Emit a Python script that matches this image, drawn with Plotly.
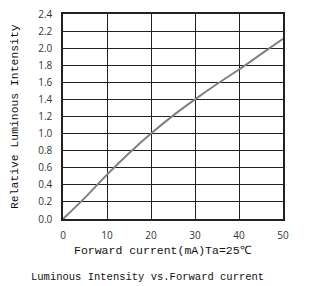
import plotly.graph_objects as go

current_ma = [0, 5, 10, 15, 20, 25, 30, 35, 40, 45, 50]
rel_intensity = [0, 0.25, 0.52, 0.77, 1.0, 1.21, 1.40, 1.58, 1.75, 1.93, 2.11]
x_ticks = [0, 10, 20, 30, 40, 50]
y_ticks = [round(0.2 * i, 1) for i in range(13)]
y_tick_labels = [f"{v:.1f}" for v in y_ticks]

fig = go.Figure()
fig.add_trace(go.Scatter(x=current_ma, y=rel_intensity, mode="lines", hoverinfo="skip",
                         line=dict(color="#808080", width=2), line_shape="spline"))

grid = "#222222"
tickfont = dict(family="Open Sans", size=10, color="#333")
fig.update_xaxes(range=[0, 50], tickvals=x_ticks, showgrid=True, gridcolor=grid, gridwidth=1.3,
                 showline=True, linecolor=grid, linewidth=1.5, mirror=True, zeroline=False,
                 ticks="outside", ticklen=6, tickcolor="rgba(0,0,0,0)", tickfont=tickfont,
                 automargin=False, fixedrange=True)
fig.update_yaxes(range=[0, 2.4], tickvals=y_ticks, ticktext=y_tick_labels, showgrid=True,
                 gridcolor=grid, gridwidth=1.3, showline=True, linecolor=grid, linewidth=1.5,
                 mirror=True, zeroline=False, ticks="outside", ticklen=7,
                 tickcolor="rgba(0,0,0,0)", tickfont=tickfont, automargin=False, fixedrange=True)

txt = dict(family="Liberation Mono", color="#111")
fig.add_annotation(text="Forward current(mA)Ta=25℃", xref="paper", yref="paper",
                   x=(163 - 63) / 220, y=-(251 - 219) / 205, xanchor="center", yanchor="middle",
                   showarrow=False, font=dict(size=11.5, **txt))
fig.add_annotation(text="Relative Luminous Intensity", xref="paper", yref="paper",
                   x=(15 - 63) / 220, y=(219 - 117) / 205, xanchor="center", yanchor="middle",
                   textangle=-90, showarrow=False, font=dict(size=11.4, **txt))
fig.add_annotation(text="Luminous Intensity vs.Forward current", xref="paper", yref="paper",
                   x=(147 - 63) / 220, y=-(277 - 219) / 205, xanchor="center", yanchor="middle",
                   showarrow=False, font=dict(size=10.5, **txt))
fig.update_layout(width=315, height=286, margin=dict(l=63, r=32, t=14, b=67, autoexpand=False),
                  paper_bgcolor="white", plot_bgcolor="white", showlegend=False,
                  hovermode=False)
fig.write_html("out.html", config={"displayModeBar": False},
               post_script="document.body.style.margin='0';document.body.style.overflow='hidden';")
